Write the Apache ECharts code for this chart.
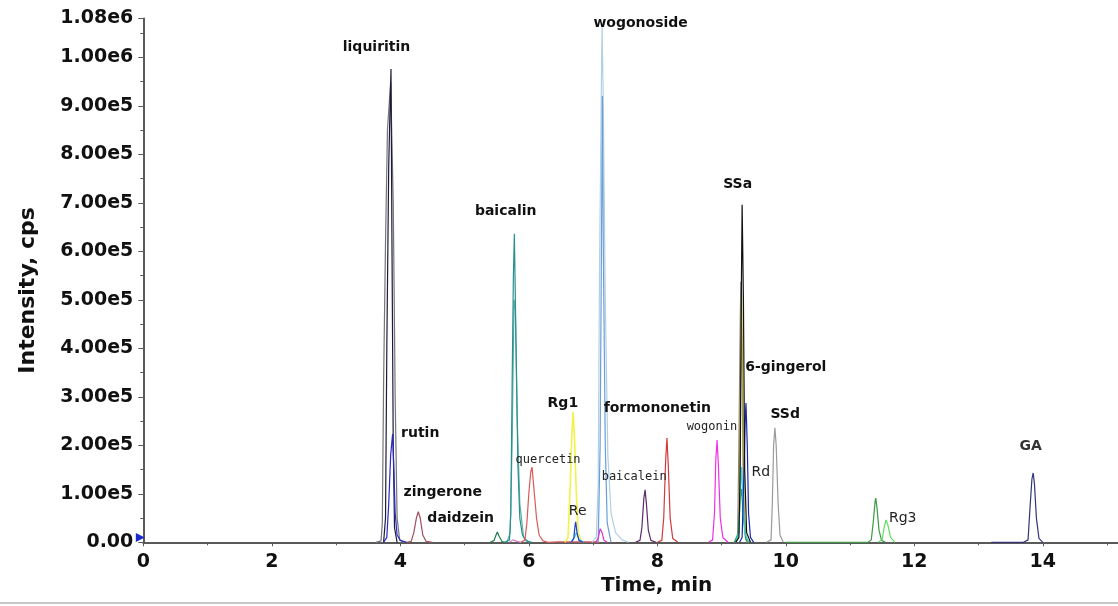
<!DOCTYPE html>
<html>
<head>
<meta charset="utf-8">
<script src="https://cdn.jsdelivr.net/npm/echarts@6.0.0/dist/echarts.min.js"></script>
<style>
  html, body { margin: 0; padding: 0; background: #fff; }
  #chart { width: 1118px; height: 606px; }
</style>
</head>
<body>
<div id="chart"></div>
<script>
// x ticks (min), y ticks (cps)
var xTicks = [0, 2, 4, 6, 8, 10, 12, 14];
var yMax = 1.08e6;
var xMax = 15.17;

// peaks: [time (min), intensity (cps)]
var liquiritinGrey = [[3.62,0],[3.70,3e3],[3.72,4e4],[3.74,3.3e5],[3.77,6.2e5],[3.80,8.5e5],[3.85,9.5e5],[3.89,7.0e5],[3.92,3.0e5],[3.95,5e4],[3.99,5e3],[4.05,0]];
var liquiritinDark = [[3.74,0],[3.77,5e4],[3.79,4.0e5],[3.82,7.8e5],[3.855,9.76e5],[3.87,6.2e5],[3.89,2.0e5],[3.91,3e4],[3.95,0]];
var rutin = [[3.74,0],[3.79,1e4],[3.82,8e4],[3.85,1.8e5],[3.88,2.23e5],[3.90,1.5e5],[3.92,6e4],[3.95,1.5e4],[4.00,4e3],[4.10,0]];
var zingerone = [[4.10,0],[4.17,2e3],[4.21,2e4],[4.25,5e4],[4.28,6.3e4],[4.31,5e4],[4.35,1.5e4],[4.40,2e3],[4.50,0]];
var smallGreen = [[5.40,0],[5.46,4e3],[5.49,1.5e4],[5.51,2.1e4],[5.54,1.2e4],[5.58,2e3],[5.62,0]];
var smallPink = [[5.70,0],[5.75,5e3],[5.78,8e3],[5.82,2e3],[5.88,0]];
var baicalin = [[5.62,0],[5.70,5e3],[5.72,6e4],[5.74,3.2e5],[5.76,5.5e5],[5.775,6.36e5],[5.80,4.2e5],[5.83,1.6e5],[5.86,5e4],[5.90,1.5e4],[5.96,3e3],[6.05,0]];
var baicalinLight = [[5.66,0],[5.71,2e4],[5.74,2.0e5],[5.77,5.0e5],[5.79,4.8e5],[5.82,2.5e5],[5.86,8e4],[5.92,1e4],[6.00,0]];
var quercetin = [[5.88,0],[5.94,5e3],[5.97,4e4],[6.00,1.0e5],[6.03,1.45e5],[6.05,1.55e5],[6.08,1.1e5],[6.12,5e4],[6.16,1.5e4],[6.22,3e3],[6.30,0],[6.45,1e3],[7.05,1e3],[7.10,0]];
var rg1 = [[6.56,0],[6.61,1e4],[6.64,1.0e5],[6.67,2.2e5],[6.69,2.69e5],[6.71,2.2e5],[6.74,1.0e5],[6.77,2e4],[6.82,0]];
var reBlue = [[6.66,0],[6.70,8e3],[6.72,3.5e4],[6.73,4.2e4],[6.75,2e4],[6.78,4e3],[6.84,0]];
var reCyan = [[6.66,0],[6.71,1e4],[6.74,2e4],[6.78,6e3],[6.85,0]];
var wogonoside = [[6.98,0],[7.05,1e4],[7.08,1.2e5],[7.10,5.5e5],[7.13,9.5e5],[7.14,1.065e6],[7.16,9.0e5],[7.19,5.0e5],[7.23,1.8e5],[7.28,6e4],[7.35,2e4],[7.45,5e3],[7.55,0]];
var wogonosideInner = [[7.08,0],[7.11,2.0e5],[7.13,6.0e5],[7.145,9.2e5],[7.16,6.0e5],[7.19,2.0e5],[7.22,4e4],[7.28,0]];
var pinkSmall = [[7.04,0],[7.08,8e3],[7.11,2.8e4],[7.12,3.2e4],[7.14,2e4],[7.17,4e3],[7.22,0]];
var baicalein = [[7.66,0],[7.73,4e3],[7.76,3e4],[7.79,9e4],[7.81,1.08e5],[7.83,8e4],[7.86,2.5e4],[7.90,4e3],[7.98,0]];
var formononetin = [[8.00,0],[8.07,4e3],[8.10,5e4],[8.13,1.7e5],[8.15,2.15e5],[8.17,1.6e5],[8.20,5e4],[8.24,8e3],[8.32,0]];
var wogonin = [[8.80,0],[8.86,5e3],[8.89,6e4],[8.91,1.7e5],[8.93,2.11e5],[8.95,1.6e5],[8.98,5e4],[9.02,1e4],[9.10,0]];
var ssaGrey = [[9.20,0],[9.25,1e4],[9.27,2.0e5],[9.29,4.5e5],[9.30,5.37e5],[9.32,3.5e5],[9.34,1.0e5],[9.37,1e4],[9.42,0]];
var ssaOlive = [[9.23,0],[9.27,2e4],[9.29,3.0e5],[9.31,5.14e5],[9.33,3.0e5],[9.35,6e4],[9.39,0]];
var rdGreen = [[9.20,0],[9.26,2e4],[9.29,9e4],[9.31,1.1e5],[9.34,5e4],[9.38,5e3],[9.44,0]];
var rdCyan = [[9.22,0],[9.27,2e4],[9.30,1.3e5],[9.31,1.55e5],[9.33,1.0e5],[9.36,2e4],[9.42,0]];
var gingerol = [[9.28,0],[9.32,1e4],[9.35,1.5e5],[9.37,2.6e5],[9.38,2.87e5],[9.40,2.0e5],[9.42,6e4],[9.45,1e4],[9.50,0]];
var ssa = [[9.22,0],[9.27,1e4],[9.29,1.5e5],[9.31,5.5e5],[9.32,6.96e5],[9.34,5.0e5],[9.36,1.5e5],[9.39,2e4],[9.45,0]];
var ssd = [[9.70,0],[9.77,5e3],[9.79,8e4],[9.81,2.0e5],[9.83,2.36e5],[9.85,2.0e5],[9.88,8e4],[9.91,1.5e4],[9.96,0]];
var rg3Dark = [[10.00,0],[11.28,0],[11.33,5e3],[11.36,4e4],[11.39,8.5e4],[11.40,9.1e4],[11.42,7e4],[11.45,2.5e4],[11.49,4e3],[11.55,0]];
var rg3Light = [[11.44,0],[11.50,6e3],[11.53,3e4],[11.56,4.6e4],[11.59,3.5e4],[11.63,1e4],[11.70,0]];
var ga = [[13.20,0],[13.70,0],[13.77,5e3],[13.80,7e4],[13.83,1.3e5],[13.85,1.43e5],[13.87,1.2e5],[13.90,5e4],[13.94,8e3],[14.00,0]];
var startMarker = [[0, 1e4]];

// peak names and where their labels sit, in data units
var labelNames = ['liquiritin','wogonoside','baicalin','rutin','zingerone','daidzein','Rg1','quercetin','Re','formononetin','baicalein','wogonin','SSa','6-gingerol','SSd','Rd','Rg3','GA'];
var labelAnchors = [[3.63,1.021e6],[7.74,1.071e6],[5.64,0.683e6],[4.31,0.225e6],[4.66,0.104e6],[4.94,0.050e6],[6.53,0.287e6],[6.30,0.170e6],[6.76,0.063e6],[8.00,0.277e6],[7.64,0.135e6],[8.85,0.238e6],[9.25,0.739e6],[10.00,0.360e6],[9.99,0.263e6],[9.61,0.145e6],[11.82,0.050e6],[13.81,0.197e6]];

var monoLabels = ['quercetin','baicalein','wogonin'];
var thinLabels = ['Re','Rd','Rg3'];

function peak(data, color, w) {
  return {
    type: 'line',
    data: data,
    symbol: 'none',
    smooth: false,
    lineStyle: { color: color, width: w || 1.2 },
    silent: true,
    z: 3
  };
}

function fmtY(v) {
  if (v === 0) return '0.00';
  var e = Math.floor(Math.log10(v) + 1e-9);
  return (v / Math.pow(10, e)).toFixed(2) + 'e' + e;
}

var labelData = labelNames.map(function (n, i) {
  var lab = { show: true, formatter: n, position: [0, 0], align: 'center', verticalAlign: 'middle',
              color: '#111', textBorderWidth: 0,
              fontFamily: 'DejaVu Sans', fontWeight: 'bold', fontSize: 14 };
  if (monoLabels.indexOf(n) >= 0) {
    lab.fontFamily = 'DejaVu Sans Mono';
    lab.fontWeight = 'normal';
    lab.fontSize = 12;
    lab.color = '#222';
  } else if (thinLabels.indexOf(n) >= 0) {
    lab.fontWeight = 'normal';
    lab.color = '#222';
  } else if (n === 'GA') {
    lab.color = '#333';
  }
  return { value: labelAnchors[i], label: lab };
});

var chart = echarts.init(document.getElementById('chart'));
chart.setOption({
  animation: false,
  backgroundColor: '#fff',
  grid: { left: 143.3, right: 0, top: 18.5, bottom: 63.7 },
  xAxis: {
    type: 'value',
    min: 0,
    max: xMax,
    interval: 2,
    name: 'Time, min',
    nameLocation: 'middle',
    nameGap: 32,
    nameTextStyle: { fontFamily: 'DejaVu Sans', fontWeight: 'bold', fontSize: 20, color: '#111', padding: [0, 0, 0, 52] },
    axisLine: { lineStyle: { color: '#5a5a5a', width: 2 } },
    axisTick: { show: true, length: 4, lineStyle: { color: '#5a5a5a' } },
    minorTick: { show: true, splitNumber: 2, length: 3, lineStyle: { color: '#5a5a5a' } },
    splitLine: { show: false },
    axisLabel: {
      margin: 10,
      showMaxLabel: false,
      fontFamily: 'DejaVu Sans', fontWeight: 'bold', fontSize: 19, color: '#111',
      formatter: function (v) { return xTicks.indexOf(v) >= 0 ? String(v) : ''; }
    }
  },
  yAxis: {
    type: 'value',
    min: 0,
    max: yMax,
    interval: 1e5,
    name: 'Intensity, cps',
    nameLocation: 'middle',
    nameGap: 104,
    nameTextStyle: { fontFamily: 'DejaVu Sans', fontWeight: 'bold', fontSize: 22, color: '#111', padding: [0, 20, 0, 0] },
    axisLine: { show: true, lineStyle: { color: '#5a5a5a', width: 2 } },
    axisTick: { show: true, length: 5, lineStyle: { color: '#5a5a5a' } },
    minorTick: { show: true, splitNumber: 2, length: 3, lineStyle: { color: '#5a5a5a' } },
    splitLine: { show: false },
    axisLabel: {
      margin: 10,
      fontFamily: 'DejaVu Sans', fontWeight: 'bold', fontSize: 19, color: '#111',
      formatter: fmtY
    }
  },
  graphic: [
    { type: 'rect', left: 0, top: 602, shape: { width: 1118, height: 2 }, style: { fill: '#c8c8c8' } }
  ],
  series: [
    peak(liquiritinGrey, '#75757c'),
    peak(liquiritinDark, '#1c1c3a'),
    peak(rutin, '#2a2ac8'),
    peak(zingerone, '#a04e60'),
    peak(smallGreen, '#1f7a4a'),
    peak(smallPink, '#d080c0'),
    peak(baicalinLight, '#5fb0a8'),
    peak(baicalin, '#2a8f8f'),
    peak(quercetin, '#d85a5a'),
    peak(rg1, '#f2f24a', 1.6),
    peak(reCyan, '#40c8e0'),
    peak(reBlue, '#1f3fd0'),
    peak(wogonoside, '#b0d0e4'),
    peak(wogonosideInner, '#6a9ed6'),
    peak(pinkSmall, '#e030c8'),
    peak(baicalein, '#5a2a6a'),
    peak(formononetin, '#d03a3a'),
    peak(wogonin, '#f030e8'),
    peak(ssaGrey, '#858585'),
    peak(ssaOlive, '#b5a82a'),
    peak(rdGreen, '#2e9a5a'),
    peak(rdCyan, '#38d4d4'),
    peak(gingerol, '#1a28b0'),
    peak(ssa, '#111111'),
    peak(ssd, '#9a9a9a'),
    peak(rg3Dark, '#3c9a44'),
    peak(rg3Light, '#5ee05e'),
    peak(ga, '#34347a'),
    {
      type: 'scatter',
      data: startMarker,
      symbol: 'triangle',
      symbolRotate: -90,
      symbolSize: 9,
      symbolOffset: [-3, 0],
      itemStyle: { color: '#1a2ad0', opacity: 1 },
      clip: false,
      silent: true,
      z: 4
    },
    {
      type: 'scatter',
      data: labelData,
      symbolSize: 0,
      itemStyle: { opacity: 1 },
      clip: false,
      silent: true,
      z: 5
    }
  ]
});
</script>
</body>
</html>
